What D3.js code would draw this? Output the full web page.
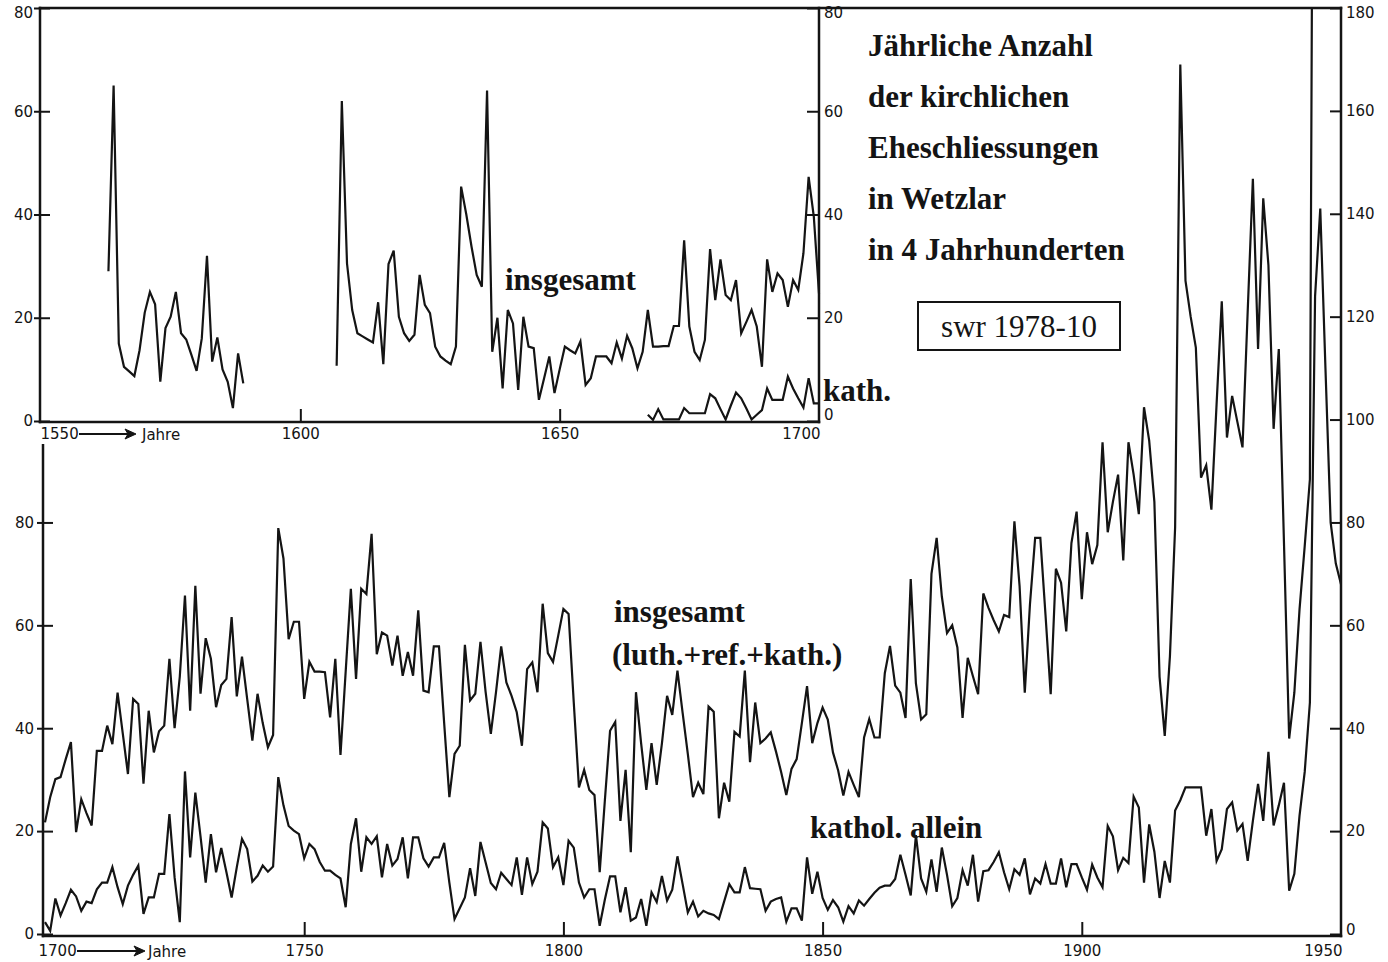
<!DOCTYPE html>
<html>
<head>
<meta charset="utf-8">
<script src="https://cdn.jsdelivr.net/npm/d3@7"></script>
<style>
  body { margin: 0; background: #fff; }
  .ax text, .num { font-family: "DejaVu Sans", sans-serif; font-size: 15px; fill: #141414; }
  .lbl { font-family: "Liberation Serif", serif; font-weight: bold; font-size: 31px; fill: #141414; }
</style>
</head>
<body>
<svg id="chart" width="1388" height="962"></svg>
<script>
// ---- data (marriages per year) ----

// upper panel 1550-1700, "insgesamt", first run of years
var topStartA = 1563;
var topValsA = [29, 65, 15, 10.5, 9.6, 8.7, 13.7, 21, 25, 22.6, 7.6, 18, 20.2, 25, 17,
                15.8, 12.8, 9.7, 16, 32, 11.5, 16.2, 10, 7.6, 2.5, 13.1, 7.3];

// upper panel, second run (1607-1700)
var topStartB = 1607;
var topValsB = [
  10.7, 62, 30.5,
  21.5, 17, 16.4, 15.8, 15.2, 23, 11, 30.4, 33, 20.2,      // 1610s
  17, 15.5, 16.7, 28.3, 22.5, 20.9, 14.4, 12.5, 11.7, 11,  // 1620s
  14.4, 45.4, 40, 33.8, 28.3, 26, 64, 13.4, 20, 6.3,       // 1630s
  21.5, 18.9, 6, 20.2, 14.4, 14.1, 4.1, 8.3, 12.5, 5.4,    // 1640s
  10, 14.4, 13.7, 13.1, 15.4, 7, 8.3, 12.5, 12.5, 12.5,    // 1650s
  11.2, 15.2, 12.1, 16.5, 14.1, 10.2, 13.4, 21.5, 14.4, 14.4, // 1660s
  14.5, 14.5, 18.4, 18.4, 35, 18.3, 13.4, 11.8, 15.7, 33.3,   // 1670s
  23.4, 31.3, 24.4, 23.4, 27.3, 17, 19.2, 21.5, 18.3, 10.5,   // 1680s
  31.3, 25, 28.6, 27.3, 22.1, 27.3, 25.4, 32.5, 47.3, 39.6,   // 1690s
  24.7
];

// upper panel, "kath."
var topKathStart = 1667;
var topKathVals = [1.2, 0.2, 2.3, 0.3, 0.3, 0.3, 0.3, 2.5, 1.5, 1.5, 1.5, 1.5, 5.2, 4.4,
                   2.3, 0.3, 3, 5.5, 4.4, 2.4, 0.3, 1.2, 2.1, 6.3, 4.1, 4.1, 4.1, 8.6,
                   6.3, 4.4, 2.6, 8.3, 3.4, 3.4];

// lower panel 1700-1950, insgesamt (luth.+ref.+kath.)
var botStart = 1700;
var insgVals = [
  21.7, 26.6, 30.1, 30.5, 34, 37.3, 19.8, 26.2, 23.5, 21.1,   // 1700s
  35.6, 35.6, 40.5, 36.9, 46.9, 39, 31.1, 45.7, 44.7, 29.2,   // 1710s
  43.4, 35.3, 39.4, 40.5, 53.5, 40, 50, 65.8, 43.4, 67.7,     // 1720s
  46.7, 57.5, 53.5, 44.1, 48.4, 49.6, 61.6, 46.2, 53.9, 45.7, // 1730s
  37.6, 46.7, 41, 36.3, 38.7, 78.9, 73, 57.3, 60.7, 60.7,     // 1740s
  45.7, 52.9, 51, 51, 50.9, 42.1, 53.5, 34.8, 51, 67.1,       // 1750s
  49.6, 67.1, 66.1, 77.8, 54.4, 58.6, 58, 52.2, 58, 50.2,     // 1760s
  54.8, 50.2, 62.9, 47.3, 47, 55.9, 55.9, 41, 26.6, 35,       // 1770s
  36.6, 56.2, 45.4, 46.7, 56.8, 47, 38.9, 47, 55.9, 48.9,     // 1780s
  46.3, 43.1, 36.6, 51.5, 52.8, 47, 64.2, 54.6, 52.9, 58,     // 1790s
  63.2, 62.2, 45, 28.5, 31.9, 28, 27, 12, 26, 39.5,           // 1800s
  41.2, 22, 31.9, 15.9, 47, 37, 28, 37.1, 29, 37,             // 1810s
  46.3, 42.6, 51.2, 43, 35, 26.6, 29.4, 27.2, 44.2, 43.2,     // 1820s
  22.5, 29.4, 25.7, 39.3, 38.4, 51.2, 33.4, 45, 37.1, 38,     // 1830s
  39.2, 35.5, 31.5, 27, 32.1, 34, 41, 48.2, 37.1, 41,         // 1840s
  44, 41.7, 35.3, 31.8, 26.9, 31.5, 29, 26.6, 38.2, 41.8,     // 1850s
  38.2, 38.2, 50.7, 56, 48.3, 46.9, 42, 69, 48.7, 41.7,       // 1860s
  42.7, 70, 77, 65.6, 58.5, 60, 55.7, 42, 53.7, 50.1,         // 1870s
  46.6, 66.2, 63.4, 61, 58.8, 62, 61.6, 80.2, 67.6, 46.9,     // 1880s
  64.1, 77, 77, 62, 46.6, 71, 68.3, 58.8, 76, 82.1,           // 1890s
  65.1, 78.1, 71.9, 75.6, 95.6, 78.1, 84, 89.3, 72.6, 95.6,   // 1900s
  89.3, 81.6, 102.4, 95.9, 84, 50, 38.5, 54, 79, 169,         // 1910s
  127, 120, 114, 88.7, 91.1, 82.5, 103, 123, 96.5, 104.6,     // 1920s
  99.6, 94.6, 121, 146.8, 113.7, 143, 130, 98.2, 113.7, 76,   // 1930s
  38, 46.9, 63.1, 75.4, 88.4, 330                             // 1940-45 (last one runs off the top)
];

// lower panel, kathol. allein
var kathVals = [
  2.3, 0.6, 6.9, 3.6, 6, 8.6, 7.3, 4.5, 6.3, 6,               // 1700s
  8.7, 10, 10, 13, 9.1, 5.8, 9.4, 11.5, 13.3, 3.9,            // 1710s
  7.1, 7.1, 11.7, 11.7, 23.3, 11, 2.3, 31.6, 14.9, 27.5,      // 1720s
  19, 10, 19.4, 12, 16.7, 12, 7.1, 13, 18.5, 16.5,            // 1730s
  10.2, 11.3, 13.3, 12.1, 13.1, 30.5, 25, 21, 20.1, 19.4,     // 1740s
  14.7, 17.5, 16.5, 14, 12.3, 12.3, 11.5, 10.8, 5.2, 17.5,    // 1750s
  22.5, 12.1, 18.8, 17.5, 19, 11, 17.5, 13.3, 14.6, 18.8,     // 1760s
  10.8, 18.8, 18.8, 14.7, 13.1, 14.9, 14.9, 17.7, 10, 2.9,    // 1770s
  5, 7.1, 12.8, 7.4, 17.9, 13.9, 9.9, 8.7, 11.9, 10.7,        // 1780s
  9.5, 14.9, 7.6, 14.9, 9.7, 12.1, 21.7, 20.5, 13, 14.9,      // 1790s
  9.5, 18.1, 16.8, 10, 7.1, 8.7, 8.7, 1.6, 6.7, 11.2,         // 1800s
  11.2, 4.2, 9.1, 2.6, 3.2, 6.8, 1.6, 8.1, 6.2, 11.3,         // 1810s
  6.5, 8.6, 15.1, 9.7, 4.2, 6.3, 3.4, 4.5, 4, 3.7,            // 1820s
  2.9, 6.3, 9.7, 8.1, 8.1, 13, 8.9, 8.8, 8.7, 4.5,            // 1830s
  6.3, 6.8, 7.1, 2.4, 5, 5, 2.6, 14.9, 7.8, 12.1,             // 1840s
  7, 4.7, 6.6, 5.2, 2.4, 5.4, 4, 6.5, 5.5, 6.8,               // 1850s
  8, 9, 9.4, 9.4, 10.7, 15.4, 11.5, 7.5, 19.2, 10.8,          // 1860s
  8.2, 14.5, 8.2, 16.8, 11.5, 5.4, 7, 12.4, 9.4, 15.4,        // 1870s
  6.3, 12.2, 12.4, 14, 15.9, 12, 8.7, 12.6, 11.5, 14.7,       // 1880s
  7.7, 10.8, 9.8, 13.6, 9.8, 9.8, 14.7, 9.1, 13.6, 13.6,      // 1890s
  11, 8.6, 13.5, 11, 9.1, 21, 19, 12.4, 14.8, 13.8,           // 1900s
  26.7, 24.6, 10, 21.3, 16, 7, 14.2, 10, 24, 26,              // 1910s
  28.5, 28.5, 28.5, 28.5, 19.1, 24.3, 14.2, 16.5, 24.3, 25.6, // 1920s
  20.1, 21.4, 14.2, 22, 29.2, 22, 35.4, 21.1, 25, 29.4,       // 1930s
  8.4, 11.7, 23, 31.5, 45, 124, 141, 110, 80, 72,             // 1940s
  68                                                          // 1950
];

var topYTicks = [0, 20, 40, 60, 80];
var botYTicksLeft = [0, 20, 40, 60, 80];
var botYTicksRight = [0, 20, 40, 60, 80, 100, 120, 140, 160, 180];
var topXTicks = [1550, 1600, 1650, 1700];
var botXTicks = [1700, 1750, 1800, 1850, 1900, 1950];

var titleLines = ["Jährliche Anzahl", "der kirchlichen", "Eheschliessungen", "in Wetzlar", "in 4 Jahrhunderten"];

// ---- drawing ----
const svg = d3.select("#chart");
const ink = "#141414";

const xTop = d3.scaleLinear().domain([1550, 1700]).range([41, 819]);
const yTop = d3.scaleLinear().domain([0, 80]).range([421, 8]);
const xBot = d3.scaleLinear().domain([1700, 1950]).range([45, 1341]);
const yBot = d3.scaleLinear().domain([0, 180]).range([934, 8]);

function series(start, vals) {
    return vals.map((v, i) => ({year: start + i, value: v}));
}

function seg(x1, y1, x2, y2, w) {
    svg.append("line")
        .attr("x1", x1).attr("y1", y1).attr("x2", x2).attr("y2", y2)
        .attr("stroke", ink).attr("stroke-width", w || 2.5)
        .attr("stroke-linecap", "square");
}

// frame / axis lines
seg(40, 8, 1341, 8);                       // top border
seg(40, 8, 40, 422);                       // upper panel left
seg(40, 422, 819, 422);                    // upper panel bottom
seg(819, 8, 819, 422);                     // upper panel right
seg(43, yBot(95), 43, 936);                // lower panel left
seg(43, 936, 1341, 936);                   // lower panel bottom
seg(1341, 8, 1341, 936);                   // lower panel right

function tidy(g) {
    g.select(".domain").remove();
    g.selectAll(".tick line").attr("stroke", ink).attr("stroke-width", 2);
}

// y axes
const gTL = svg.append("g").attr("class", "ax").attr("transform", "translate(40,0)")
    .call(d3.axisLeft(yTop).tickValues(topYTicks).tickSizeInner(-10).tickSizeOuter(0).tickPadding(7));
tidy(gTL);
gTL.selectAll(".tick line").attr("x1", -6);

const gTR = svg.append("g").attr("class", "ax").attr("transform", "translate(819,0)")
    .call(d3.axisRight(yTop).tickValues(topYTicks).tickSizeInner(-12).tickSizeOuter(0).tickPadding(5));
tidy(gTR);

const gBL = svg.append("g").attr("class", "ax").attr("transform", "translate(43,0)")
    .call(d3.axisLeft(yBot).tickValues(botYTicksLeft).tickSizeInner(-10).tickSizeOuter(0).tickPadding(9));
tidy(gBL);
gBL.selectAll(".tick line").attr("x1", -6);

const gBR = svg.append("g").attr("class", "ax").attr("transform", "translate(1341,0)")
    .call(d3.axisRight(yBot).tickValues(botYTicksRight).tickSizeInner(-11).tickSizeOuter(0).tickPadding(5));
tidy(gBR);

// the top-most labels sit just under the border line
[gTL, gTR].forEach(g => g.selectAll(".tick").filter(d => d === 80).select("text").attr("y", 5));
gBR.selectAll(".tick").filter(d => d === 180).select("text").attr("y", 5);
gTR.selectAll(".tick").filter(d => d === 0).select("text").attr("y", -6);
gBR.selectAll(".tick").filter(d => d === 0).select("text").attr("y", -4);

// x axes
const gTX = svg.append("g").attr("class", "ax").attr("transform", "translate(0,422)")
    .call(d3.axisBottom(xTop).tickValues(topXTicks).tickFormat(d3.format("d"))
        .tickSizeInner(-13).tickSizeOuter(0).tickPadding(6));
tidy(gTX);

const gBX = svg.append("g").attr("class", "ax").attr("transform", "translate(0,936)")
    .call(d3.axisBottom(xBot).tickValues(botXTicks).tickFormat(d3.format("d"))
        .tickSizeInner(-14).tickSizeOuter(0).tickPadding(9));
tidy(gBX);

[[gTX, 1550, 1700, -1], [gBX, 1700, 1950, -7]].forEach(([g, a, b, dx]) => {
    g.selectAll(".tick").filter(d => d === a || d === b).select("line").remove();
    g.selectAll(".tick").filter(d => d === a).select("text").attr("text-anchor", "start").attr("x", dx);
    g.selectAll(".tick").filter(d => d === b).select("text").attr("text-anchor", "end").attr("x", 1);
});

// "----> Jahre"
function arrow(x1, x2, y) {
    seg(x1, y, x2 - 6, y, 2);
    svg.append("path")
        .attr("d", `M${x2 - 11},${y - 5}L${x2},${y}L${x2 - 11},${y + 5}L${x2 - 8},${y}Z`)
        .attr("fill", ink).attr("stroke", ink).attr("stroke-width", 1);
}
arrow(80, 136, 434);
svg.append("text").attr("class", "num").attr("x", 142).attr("y", 440).text("Jahre");
arrow(78, 145, 951);
svg.append("text").attr("class", "num").attr("x", 148).attr("y", 957).text("Jahre");

// data lines
const lineTop = d3.line().x(d => xTop(d.year)).y(d => yTop(d.value));
const lineBot = d3.line().x(d => xBot(d.year)).y(d => yBot(d.value));

svg.append("clipPath").attr("id", "botClip")
    .append("rect").attr("x", 43).attr("y", 8).attr("width", 1298).attr("height", 928);

const dataLines = [
    [lineTop, series(topStartA, topValsA), null],
    [lineTop, series(topStartB, topValsB), null],
    [lineTop, series(topKathStart, topKathVals), null],
    [lineBot, series(botStart, insgVals), "url(#botClip)"],
    [lineBot, series(botStart, kathVals), "url(#botClip)"]
];
dataLines.forEach(([gen, data, clip]) => {
    svg.append("path")
        .datum(data)
        .attr("d", gen)
        .attr("fill", "none")
        .attr("stroke", ink)
        .attr("stroke-width", 2.2)
        .attr("stroke-linejoin", "miter")
        .attr("clip-path", clip);
});

// labels
function label(x, y, txt) {
    svg.append("text").attr("class", "lbl").attr("x", x).attr("y", y).text(txt);
}
label(505, 290, "insgesamt");
label(823, 401, "kath.");
label(614, 622, "insgesamt");
label(612, 665, "(luth.+ref.+kath.)");
label(810, 838, "kathol. allein");

titleLines.forEach((t, i) => label(868, 56 + i * 51, t));

svg.append("rect")
    .attr("x", 918).attr("y", 302).attr("width", 202).attr("height", 48)
    .attr("fill", "none").attr("stroke", ink).attr("stroke-width", 2);
svg.append("text").attr("class", "lbl")
    .attr("x", 1019).attr("y", 337).attr("text-anchor", "middle")
    .style("font-weight", "normal")
    .text("swr 1978-10");
</script>
</body>
</html>
